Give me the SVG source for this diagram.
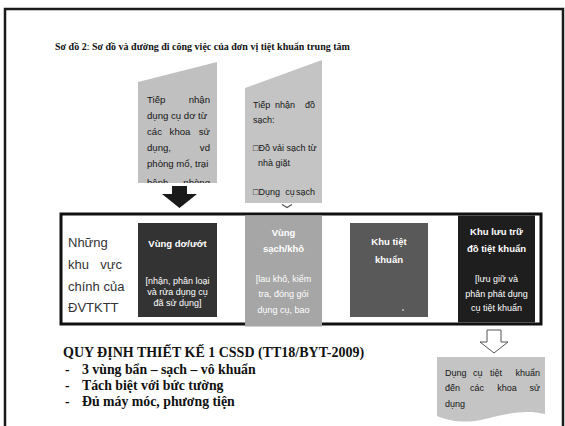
<svg xmlns="http://www.w3.org/2000/svg" width="565" height="426" viewBox="0 0 565 426">
<style>
.serif{font-family:"Liberation Serif","Times New Roman",serif;font-weight:bold;fill:#111}
.sans{font-family:"Liberation Sans",Arial,"DejaVu Sans",sans-serif}
.in{font-size:9.6px;fill:#151515}
.in2{font-size:9px;fill:#151515}
.out{font-size:9px;fill:#151515}
.hd{font-size:9.5px;font-weight:bold;fill:#fff;text-anchor:middle}
.sb{font-size:9px;fill:#fff;text-anchor:middle}
.lbl{font-size:13px;fill:#333}
.arr{fill:url(#ag);stroke:#444;stroke-width:1}
</style>
<defs>
<linearGradient id="ag" x1="0" y1="0" x2="1" y2="0">
<stop offset="0" stop-color="#d8d8d8"/>
<stop offset="1" stop-color="#555"/>
</linearGradient>
<clipPath id="c1"><rect x="138" y="60" width="79" height="123"/></clipPath>
</defs>
<rect width="565" height="426" fill="#fff"/>
<path d="M5,426 V9 H563 V426" fill="none" stroke="#1a1a1a" stroke-width="2.5"/>
<text class="serif" x="55" y="50" font-size="10">Sơ đồ 2<tspan font-weight="normal">: </tspan>Sơ đồ và đường đi công việc của đơn vị tiệt khuẩn trung tâm</text>

<g id="input-dirty">
<polygon points="138,82 217,62 217,183 138,183" fill="#c0c0c0"/>
<g class="sans in" clip-path="url(#c1)">
<text x="147" y="103">Tiếp</text><text x="210" y="103" text-anchor="end">nhận</text>
<text x="147" y="119">dụng cụ dơ từ</text>
<text x="147" y="135">các</text><text x="180" y="135" text-anchor="middle">khoa</text><text x="210" y="135" text-anchor="end">sử</text>
<text x="147" y="151">dụng,</text><text x="210" y="151" text-anchor="end">vd</text>
<text x="147" y="167">phòng mổ, trại</text>
<text x="147" y="186">bệnh</text><text x="210" y="186" text-anchor="end">phòng</text>
</g>
</g>

<g id="input-clean">
<polygon points="245,88 322,60 322,203 245,203" fill="#c4c4c4"/>
<g class="sans in2">
<text x="253" y="108">Tiếp</text><text x="285" y="108" text-anchor="middle">nhận</text><text x="315" y="108" text-anchor="end">đồ</text>
<text x="253" y="123">sạch:</text>
<text x="253" y="151">□Đồ vải sạch từ</text>
<text x="258" y="166">nhà giặt</text>
<text x="253" y="195">□Dụng</text><text x="290" y="195" text-anchor="middle">cụ</text><text x="315" y="195" text-anchor="end">sạch</text>
</g>
</g>

<g id="connectors">
<polygon points="172,186 187,186 187,194 197,194 179.5,208 162,194 172,194" fill="#1a1a1a"/>
<polyline points="282,204.5 287,207.5 292,204.5" fill="none" stroke="#555" stroke-width="1.2"/>
<polygon class="arr" points="220,266 229,266 229,258 241,272 229,286 229,279 220,279"/>
<polygon class="arr" points="326,266 335,266 335,258 347,272 335,286 335,279 326,279"/>
<polygon class="arr" points="431,266 440,266 440,258 453,272 440,286 440,279 431,279"/>
<polygon points="487,330 501,330 501,342 508,342 494,353 480,342 487,342" fill="#fff" stroke="#555" stroke-width="1"/>
</g>

<g id="zones">
<rect x="61" y="214" width="480" height="110" fill="#fff" stroke="#111" stroke-width="3"/>
<g class="sans lbl">
<text x="68" y="247">Những</text>
<text x="68" y="269">khu</text><text x="122" y="269" text-anchor="end">vực</text>
<text x="68" y="291">chính của</text>
<text x="68" y="312">ĐVTKTT</text>
</g>
</g>

<g id="zone-dirty">
<rect x="138" y="223" width="79" height="94" fill="#333"/>
<text class="sans hd" x="177.5" y="247" font-size="9">Vùng dơ/ướt</text>
<text class="sans sb" x="177.5" y="284">[nhận, phân loại</text>
<text class="sans sb" x="177.5" y="295">và rửa dụng cụ</text>
<text class="sans sb" x="177.5" y="306">đã sử dụng]</text>
</g>

<g id="zone-clean">
<rect x="245" y="215.5" width="77" height="111" fill="#a6a6a6"/>
<text class="sans hd" x="283.5" y="236">Vùng</text>
<text class="sans hd" x="283.5" y="252">sạch/khô</text>
<text class="sans sb" x="283.5" y="282">[lau khô, kiểm</text>
<text class="sans sb" x="283.5" y="297">tra, đóng gói</text>
<text class="sans sb" x="283.5" y="313">dụng cụ, bao</text>
</g>

<g id="zone-sterile">
<rect x="350" y="223" width="78" height="94" fill="#595959"/>
<text class="sans hd" x="389" y="245">Khu tiệt</text>
<text class="sans hd" x="389" y="263">khuẩn</text>
<circle cx="403" cy="310" r="0.8" fill="#fff"/>
</g>

<g id="zone-storage">
<rect x="458" y="215.5" width="77" height="107" fill="#1e1e1e"/>
<text class="sans hd" x="496.5" y="235">Khu lưu trữ</text>
<text class="sans hd" x="496.5" y="252">đồ tiệt khuẩn</text>
<text class="sans sb" x="496.5" y="282">[lưu giữ và</text>
<text class="sans sb" x="496.5" y="297">phân phát dụng</text>
<text class="sans sb" x="496.5" y="311">cụ tiệt khuẩn</text>
</g>

<g id="output">
<path d="M437,357 H545 V414 C525,409 505,414 485,419 C465,424 450,421 437,416 Z" fill="#c4c4c4"/>
<g class="sans out">
<text x="445" y="376">Dụng</text><text x="473" y="376">cụ</text><text x="490" y="376">tiệt</text><text x="540" y="376" text-anchor="end">khuẩn</text>
<text x="445" y="391">đến</text><text x="470" y="391">các</text><text x="507" y="391" text-anchor="middle">khoa</text><text x="540" y="391" text-anchor="end">sử</text>
<text x="445" y="407">dụng</text>
</g>
</g>

<g id="rules" class="serif">
<text x="63" y="357" font-size="14">QUY ĐỊNH THIẾT KẾ 1 CSSD (TT18/BYT-2009)</text>
<text x="65" y="374" font-size="13.8">-</text><text x="82" y="374" font-size="13.8">3 vùng bẩn – sạch – vô khuẩn</text>
<text x="65" y="390" font-size="13.8">-</text><text x="82" y="390" font-size="13.8">Tách biệt với bức tường</text>
<text x="65" y="406" font-size="13.8">-</text><text x="82" y="406" font-size="13.8">Đủ máy móc, phương tiện</text>
</g>
</svg>
